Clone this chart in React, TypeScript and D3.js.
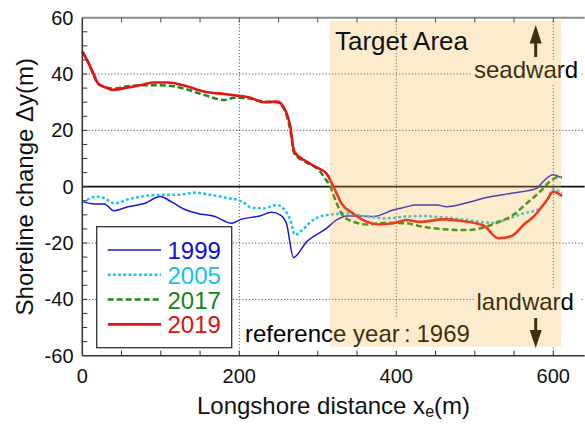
import React from "react";
import * as d3 from "d3";

const x1999 = [0, 16, 28, 40, 58, 80, 99, 113, 130, 147, 169, 190, 202, 226, 241, 252, 260, 269, 286, 311, 324, 337, 354, 371, 396, 418, 422, 452, 464, 490, 515, 545, 579, 587, 600, 609];
const y1999 = [-5.3, -6.1, -6.1, -8.5, -7.1, -5.9, -3.5, -5.3, -8, -9.5, -10.6, -13, -11.6, -10.4, -9.1, -10, -13, -25.1, -19.5, -14.8, -11.8, -10.4, -10.4, -10.6, -8.3, -6.8, -6.5, -6.5, -7.1, -5.7, -3.8, -2.4, -0.6, 1.8, 4.2, 3.3];

const x2005 = [0, 7, 18, 28, 41, 58, 80, 101, 122, 143, 164, 186, 198, 209, 214, 231, 248, 256, 265, 271, 280, 294, 313, 337, 362, 388, 413, 430, 460, 490, 519, 541, 562, 579, 592, 600, 611];
const y2005 = [-5.5, -4.5, -3.5, -4.1, -5.9, -4.5, -3.3, -2.9, -2.9, -2.1, -2.9, -4.1, -4.7, -6.3, -7.3, -7.7, -6.5, -7.7, -11.8, -17.1, -15.4, -11.8, -10, -9.5, -10.6, -11.2, -10.6, -10.4, -10.9, -11.8, -12.8, -11.6, -9.5, -8.3, -4.7, -0.9, -2.3];

const x2017 = [0, 7, 16, 20, 30, 40, 58, 75, 90, 109, 130, 156, 181, 194, 213, 231, 248, 258, 265, 270, 286, 301, 309, 316, 324, 333, 345, 362, 388, 413, 430, 456, 490, 511, 528, 549, 566, 583, 598, 607, 611];
const y2017 = [48, 44.5, 38.5, 36.5, 35.3, 34.8, 35.7, 36, 36, 35.9, 34.8, 32.5, 30.8, 31.6, 31.3, 30.2, 30, 27, 20, 11.8, 8.5, 6, 3, 0, -5.9, -10.6, -12.4, -13.4, -12.8, -13, -14, -15, -15.4, -14.5, -12.8, -10, -5.9, -1.8, 2.4, 3.5, 3.3];

const x2019 = [0, 7, 16, 20, 30, 39, 58, 75, 90, 109, 130, 156, 181, 198, 213, 231, 248, 258, 265, 270, 286, 301, 311, 320, 330, 345, 362, 379, 396, 413, 430, 460, 481, 511, 530, 547, 562, 577, 592, 600, 611];
const y2019 = [48, 44.4, 39, 36.7, 35.2, 34.4, 35.2, 36.1, 37, 37, 35.9, 33.7, 32.9, 32.3, 31.7, 30, 30.2, 27.5, 21.3, 12.4, 8.9, 6.5, 4.7, 0, -5.9, -9.5, -12.4, -13.4, -13, -11.8, -12.5, -11.6, -12.1, -13.8, -18.3, -17.5, -13.6, -10, -4.7, -1.8, -3.3];

const seriesNames = ["1999", "2005", "2017", "2019"];
const xTickLabels = [0, 200, 400, 600];
const yTickLabels = [60, 40, 20, 0, -20, -40, -60];
const targetArea = [315, 610];

const FONT = "'Liberation Sans', Arial, sans-serif";

export default function App() {
  const W = 585, H = 427;
  const left = 82.3, top = 17.7, bottom = 355.7;
  const xPerUnit = 471 / 600;
  const x = d3.scaleLinear().domain([0, 640]).range([left, left + 640 * xPerUnit]);
  const y = d3.scaleLinear().domain([-60, 60]).range([bottom, top]);
  const right = x(640);

  const styles = [
    { xs: x1999, ys: y1999, color: "#1818d8", width: 1.5, dash: "none", text: "#1010d0" },
    { xs: x2005, ys: y2005, color: "#22c4f2", width: 2.5, dash: "3,2.2", text: "#18c0f0" },
    { xs: x2017, ys: y2017, color: "#1a8a1a", width: 2.5, dash: "6,3", text: "#128420" },
    { xs: x2019, ys: y2019, color: "#e81212", width: 2.6, dash: "none", text: "#e01010" },
  ];

  const line = d3
    .line<[number, number]>()
    .x((d) => x(d[0]))
    .y((d) => y(d[1]))
    .curve(d3.curveMonotoneX);

  const gridX = [200, 400, 600];
  const gridY = [40, 20, -20, -40];
  const minorY = d3.range(-55, 60, 5);
  const minorX = d3.range(50, 640, 50);

  const arrowX = 535.7;

  return (
    <svg width={W} height={H} style={{ position: "absolute", left: 0, top: 0, background: "#fff" }} fontFamily={FONT}>
      {/* grid */}
      {gridX.map((v) => (
        <line key={"gx" + v} x1={x(v)} x2={x(v)} y1={top} y2={bottom} stroke="#555" strokeWidth={1} strokeDasharray="1.2,2" />
      ))}
      {gridY.map((v) => (
        <line key={"gy" + v} x1={left} x2={right} y1={y(v)} y2={y(v)} stroke="#555" strokeWidth={1} strokeDasharray="1.2,2" />
      ))}
      {/* zero line */}
      <line x1={left} x2={right} y1={y(0)} y2={y(0)} stroke="#111" strokeWidth={1.8} />

      {/* text background boxes */}
      <rect x={472} y={60} width={108} height={24} fill="#fff" />
      <rect x={474} y={288} width={106} height={59} fill="#fff" />
      <rect x={241} y={318} width={237} height={36} fill="#fff" />

      {/* series */}
      {styles.map((s, i) => {
        const pts = s.xs.map((v, j) => [v, s.ys[j]] as [number, number]);
        return (
          <path key={"s" + i} d={line(pts) || ""} fill="none" stroke={s.color} strokeWidth={s.width}
            strokeDasharray={s.dash} strokeLinejoin="round" />
        );
      })}

      {/* annotations */}
      <text x={474} y={78} fontSize={24} fill="#000">seadward</text>
      <line x1={arrowX} x2={arrowX} y1={42} y2={57} stroke="#000" strokeWidth={3} />
      <path d={`M${arrowX},25 L${arrowX - 6},43.5 L${arrowX + 6},43.5 Z`} fill="#000" />

      <text x={476.5} y={310} fontSize={24} fill="#000">landward</text>
      <line x1={arrowX} x2={arrowX} y1={318} y2={331} stroke="#000" strokeWidth={3} />
      <path d={`M${arrowX},348 L${arrowX - 6},330 L${arrowX + 6},330 Z`} fill="#000" />

      <text x={245} y={342} fontSize={24} fill="#000">reference year</text>
      <text x={404} y={342} fontSize={24} fill="#000">:</text>
      <text x={416.5} y={342} fontSize={24} fill="#000">1969</text>

      {/* legend */}
      <rect x={96.7} y={226.7} width={135} height={121} fill="#fff" stroke="#333" strokeWidth={1.3} />
      {styles.map((s, i) => {
        const cy = 250 + i * 24.8;
        return (
          <g key={"l" + i}>
            <line x1={107.7} x2={161} y1={cy} y2={cy} stroke={s.color} strokeWidth={s.width} strokeDasharray={s.dash} />
            <text x={167.5} y={cy + 9} fontSize={24} fill={s.text}>{seriesNames[i]}</text>
          </g>
        );
      })}

      {/* target area overlay */}
      <rect x={x(targetArea[0])} y={y(59)} width={x(targetArea[1]) - x(targetArea[0])} height={y(-56.8) - y(59)}
        fill="rgb(243,182,61)" fillOpacity={0.26} />
      <text x={335} y={50} fontSize={26} fill="#111">Target Area</text>

      {/* axes */}
      <line x1={left} x2={right} y1={top} y2={top} stroke="#8a8a8a" strokeWidth={2} />
      <line x1={left} x2={right} y1={bottom} y2={bottom} stroke="#333" strokeWidth={1.5} />
      <line x1={left} x2={left} y1={top} y2={bottom} stroke="#333" strokeWidth={1.5} />
      {minorY.map((v) => (
        <line key={"ty" + v} x1={left} x2={left + 5} y1={y(v)} y2={y(v)} stroke="#333" strokeWidth={1} />
      ))}
      {minorX.map((v) => (
        <g key={"tx" + v}>
          <line x1={x(v)} x2={x(v)} y1={bottom} y2={bottom - 5} stroke="#333" strokeWidth={1} />
          <line x1={x(v)} x2={x(v)} y1={top} y2={top + 5} stroke="#555" strokeWidth={1} />
        </g>
      ))}
      {yTickLabels.map((v) => (
        <text key={"yl" + v} x={73.5} y={y(v) + 7} fontSize={20} textAnchor="end" fill="#111">{v}</text>
      ))}
      {xTickLabels.map((v) => (
        <text key={"xl" + v} x={x(v)} y={383} fontSize={20} textAnchor="middle" fill="#111">{v}</text>
      ))}

      <text x={(left + right) / 2} y={414} fontSize={24} textAnchor="middle" fill="#111">
        Longshore distance x<tspan fontSize={16} dy={3}>e</tspan><tspan dy={-3}>(m)</tspan>
      </text>
      <text transform={`translate(33,${(top + bottom) / 2}) rotate(-90)`} fontSize={24} textAnchor="middle" fill="#111">
        Shoreline change Δy(m)
      </text>
    </svg>
  );
}
